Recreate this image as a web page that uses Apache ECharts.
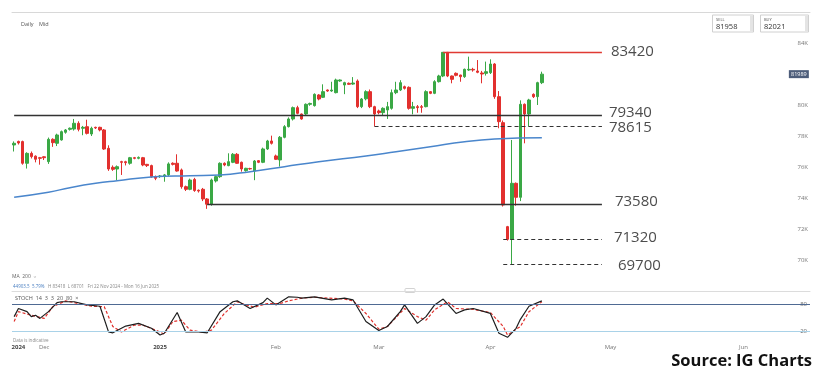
<!DOCTYPE html>
<html><head><meta charset="utf-8">
<script src="https://cdn.jsdelivr.net/npm/echarts/dist/echarts.min.js"></script>
<style>html,body{margin:0;padding:0;background:#fff}#c{width:825px;height:377px}</style>
</head><body><div id="c"></div>
<script>
// ---- DATA (daily candles, Sun-Fri sessions, 22 Nov 2024 - 15 Apr 2025) ----
const opens  = [77420,77650,77640,76240,76880,76700,76600,76660,76346,77786,77530,77745,78240,78430,78450,78820,78500,78600,78130,78560,
                78560,78390,77206,75980,75870,76346,76340,76240,76600,76560,76600,76170,76090,75380,75390,75380,75490,76240,76240,75810,
                74730,74560,75200,74500,74561,73938,73594,75098,75378,76238,76088,76303,76819,76303,75766,75900,75744,76410,76303,77163,
                77679,76712,76454,77915,78603,79098,79829,79420,79420,80044,79958,80646,80496,80968,80904,80797,81550,81290,81400,81350,
                81549,79893,80400,80861,79893,79613,79506,79678,79786,80796,80968,81183,81140,79786,79893,79893,79893,80861,80753,81506,
                81871,83398,81871,82043,81935,81828,82258,82301,82194,82065,82043,82086,82645,80538,78860,72153,71336,74948,74045,80044,
                79420,80688,80538,81441];
const closes = [77530,77550,76240,76880,76670,76500,76560,76600,77786,77570,78066,78280,78390,78500,78820,78430,78560,78170,78496,78520,
                78390,77160,75870,75850,76020,76300,76280,76600,76560,76620,76130,76090,75380,75270,75420,75490,76200,76170,75740,74730,
                74560,75160,74480,74450,73938,73600,75163,75378,76238,76130,76346,76819,76238,75873,75916,75880,76388,76303,77163,77679,
                77528,76496,77915,78603,79098,79829,79463,79098,80044,80100,80689,80388,80861,80904,80968,81613,81613,81441,81336,81420,
                79893,80388,80860,79893,79420,79506,79786,79893,80796,80968,81441,81076,79786,79893,79830,79850,80861,80753,81506,81871,
                83398,81871,81656,81915,81828,82301,82301,82258,82108,82000,82150,82645,80538,78926,73551,71336,74948,74045,80044,79420,
                80323,80538,81441,81990];
const lows   = [77000,77450,76150,75900,76550,76300,76150,76450,76200,77300,77350,77700,78150,78350,78350,78300,78050,78100,78000,78450,
                78300,77100,75750,75750,75160,75486,76100,76150,76500,76500,76050,76000,75300,75150,75300,75050,75400,76100,75700,74600,
                74450,74500,74400,74350,73800,73300,73500,75000,75300,76050,76050,76250,76200,75700,75700,75820,75150,76250,76250,77100,
                77450,76450,76024,77850,78550,79000,79400,79050,79350,79950,79900,80300,80450,80850,80850,80750,81500,80700,81300,81300,
                79800,79800,80300,79800,78615,79400,79350,79100,79700,80700,80900,81000,79700,79400,79500,79500,79850,80700,80700,81450,
                81800,81800,81400,81850,81500,81750,82200,82150,82050,81400,81900,82000,80400,78500,73450,71250,69700,73500,73800,77528,
                78603,80450,80001,81350];
const highs  = [77650,77700,77700,76950,77000,76750,76650,76700,77900,77850,78150,78350,78450,78550,79100,78950,78650,79050,78600,78600,
                78600,78450,77400,76100,76100,76400,76400,76650,76650,76680,76650,76200,76150,75450,75480,75550,76300,76300,76820,75900,
                74800,75250,75300,74550,74650,74000,75250,75450,76300,76300,76884,76900,76900,76350,75950,75950,76450,76450,77250,77750,
                78023,76800,78000,78700,79200,79900,79950,79450,80100,80150,80750,80700,81334,81000,81500,81700,81650,81500,81450,81800,
                81650,80450,80950,81000,79950,79700,79850,80200,81000,81500,81600,81250,81200,80200,80000,80000,80950,80900,81600,81950,
                83420,83420,81900,82100,81950,82350,83118,82400,82900,82200,82800,82946,82700,80900,79000,72200,77743,75000,80300,80100,
                80400,80750,81500,82150];
// 200-day moving average: [candle index, value]
const maIdx = [0,8,13,19,24,32,41,48,55,63,71,82,89,97,105,112,123];
const maVal = [74050,74370,74667,74951,75118,75357,75441,75486,75699,76021,76344,76712,76989,77311,77634,77808,77892];
// Stochastic %K (black) and %D (red dashed): [candle index, value]
const kIdx = [0,1,3,4,5,6,8,10,11,14,17,20,22,23,26,29,32,34,35,38,40,43,45,48,51,52,55,58,59,61,64,66,67,70,74,77,79,82,85,87,90,91,94,96,98,100,103,105,107,111,113,115,117,118,120,123];
const kVal = [52,70,63,52,55,48,63,83,85,85,78,75,18,16,31,37,26,11,15,61,18,18,16,63,85,87,70,83,93,78,96,95,93,96,89,93,89,41,21,30,63,78,37,52,78,91,59,67,70,59,15,6,26,46,75,87];
const dIdx = [0,1,4,7,9,12,15,18,21,23,25,28,30,33,35,37,39,41,44,46,49,52,54,56,59,62,64,67,70,77,79,82,85,87,91,94,96,98,101,103,107,111,114,115,118,120,123];
const dVal = [41,63,55,48,74,87,81,75,74,30,18,33,33,22,13,41,44,22,17,22,59,85,78,73,81,81,87,93,95,91,87,59,24,30,70,52,44,67,85,70,68,61,30,11,30,63,85];
// Key levels
const levelValues = [83420,79340,78615,73580,71320,69700];
const levelStart  = ['2025-03-19','2024-11-22','2025-02-28','2025-01-14','2025-04-04','2025-04-04'];
const levelEnd    = '2025-04-29';
const levelDashed = [false,false,true,false,true,true];
const levelColor  = ['#e03a33','#333333','#333333','#333333','#333333','#333333'];
// Axis labels
const monthDates  = ['2024-11-24','2024-12-01','2025-01-01','2025-02-02','2025-03-02','2025-04-01','2025-05-01','2025-06-01'];
const monthTexts  = ['2024','Dec','2025','Feb','Mar','Apr','May','Jun'];
const sellPrice = '81958', buyPrice = '82021', lastPrice = '81989';

// ---- categories: Sun-Fri trading days for data, calendar days for the future range ----
function fmt(d){return d.toISOString().slice(0,10);}
const cats = [];
let d = new Date(Date.UTC(2024,10,22));
while (cats.length < opens.length) { if (d.getUTCDay() !== 6) cats.push(fmt(d)); d = new Date(d.getTime()+86400000); }
const endT = Date.UTC(2025,5,16);
while (d.getTime() <= endT) { cats.push(fmt(d)); d = new Date(d.getTime()+86400000); }
const labelIdx = {};
monthDates.forEach((m,i)=>{ labelIdx[cats.indexOf(m)] = monthTexts[i]; });

const candles = opens.map((o,i)=>[o, closes[i], lows[i], highs[i]]);
const ma = maIdx.map((x,i)=>[x, maVal[i]]);
const kLine = kIdx.map((x,i)=>[x, kVal[i]]);
const dLine = dIdx.map((x,i)=>[x, dVal[i]]);

// label styling per level: gap after the line end, and vertical nudge (negative = up) via a spacer line
const labelDist  = [9,7,7,13,12,16];
const labelNudge = [0,-5,3,-5,-4,3];
const labelRich = {
  n:{fontSize:15, lineHeight:17, color:'#4d4d4d', fontFamily:'Open Sans'},
  g1:{fontSize:1, lineHeight:1}, g2:{fontSize:1, lineHeight:2}, g3:{fontSize:1, lineHeight:3},
  g4:{fontSize:1, lineHeight:4}, g5:{fontSize:1, lineHeight:5}
};
function labelText(v, nudge){
  if (!nudge) return '{n|'+v+'}';
  const g = '{g'+Math.abs(nudge)+'| }';
  return nudge < 0 ? '{n|'+v+'}\n'+g : g+'\n{n|'+v+'}';
}
const levelLines = levelValues.map((v,i)=>[
  {coord:[levelStart[i], v], lineStyle:{color:levelColor[i], width: levelDashed[i]?1.2:1.4, type: levelDashed[i]?[4,3]:'solid'},
   label:{show:true, position:'end', distance:labelDist[i], formatter:labelText(v, labelNudge[i]), rich:labelRich}},
  {coord:[levelEnd, v]}
]);

const chart = echarts.init(document.getElementById('c'), null, {renderer:'canvas'});
const txt = (x,y,t,size,color,extra)=>({type:'text', x, y, style:Object.assign({text:t, fontSize:size, fill:color, fontFamily:'Open Sans', verticalAlign:'middle'}, extra||{})});
chart.setOption({
  animation:false,
  backgroundColor:'#fff',
  grid:[
    {left:12, right:15, top:12, height:279, outerBoundsMode:'none'},
    {left:12, right:15, top:290.5, height:49.5, outerBoundsMode:'none'}
  ],
  xAxis:[
    {type:'category', gridIndex:0, data:cats, position:'top', axisLine:{show:true, lineStyle:{color:'#d8d8d8', width:1}}, axisTick:{show:false}, axisLabel:{show:false}, splitLine:{show:false}},
    {type:'category', gridIndex:0, data:cats, position:'bottom', axisLine:{show:true, lineStyle:{color:'#dcdcdc', width:1}}, axisTick:{show:false}, axisLabel:{show:false}, splitLine:{show:false}},
    {type:'category', gridIndex:1, data:cats, position:'bottom', axisLine:{show:false}, axisTick:{show:false}, splitLine:{show:false},
     axisLabel:{show:true, margin:4, fontSize:6, color:'#777', fontFamily:'Open Sans',
       interval:(i)=>labelIdx[i]!==undefined,
       formatter:(v,i)=>{const t=labelIdx[i]; if(t===undefined) return ''; return /^\d{4}$/.test(t)?'{y|'+t+'}':t;},
       rich:{y:{fontSize:6, color:'#444', fontWeight:'bold', fontFamily:'Open Sans'}}}}
  ],
  yAxis:[
    {type:'value', gridIndex:0, position:'right', min:68000, max:86000, interval:2000, splitLine:{show:false}, axisLine:{show:false}, axisTick:{show:false},
     axisLabel:{inside:true, margin:2, fontSize:6, color:'#777', fontFamily:'Open Sans', showMinLabel:false, showMaxLabel:false, formatter:(v)=> (v/1000)+'K'}},
    {type:'value', gridIndex:1, position:'right', min:0, max:110, interval:10, splitLine:{show:false}, axisLine:{show:false}, axisTick:{show:false},
     axisLabel:{inside:true, margin:2, fontSize:6, color:'#666', fontFamily:'Open Sans', backgroundColor:'#fff', padding:[0,1], formatter:(v)=> (v===20||v===80)?String(v):''}}
  ],
  series:[
    {type:'candlestick', name:'price', xAxisIndex:0, yAxisIndex:0, data:candles, barWidth:3,
     itemStyle:{color:'#3aa845', color0:'#e2302e', borderColor:'#3aa845', borderColor0:'#e2302e', borderWidth:1},
     markLine:{symbol:'none', silent:true, animation:false, data:levelLines},
     markPoint:{silent:true, animation:false, data:[{coord:[cats.length-1, closes[closes.length-1]], symbol:'rect', symbolSize:[20,8], symbolOffset:[-9,0],
       itemStyle:{color:'#4d5d7a'}, label:{show:true, position:'inside', formatter:lastPrice, color:'#fff', fontSize:5.5, fontFamily:'Open Sans'}}]}
    },
    {type:'line', name:'MA 200', xAxisIndex:0, yAxisIndex:0, data:ma, smooth:true, symbol:'none', lineStyle:{color:'#4a86cc', width:1.5}, z:3},
    {type:'line', name:'K', xAxisIndex:2, yAxisIndex:1, data:kLine, symbol:'none', lineStyle:{color:'#1e1e1e', width:1.2}, z:4,
     markLine:{symbol:'none', silent:true, animation:false, label:{show:false}, data:[
       {yAxis:80, lineStyle:{color:'#4f6a93', width:1.2, type:'solid'}},
       {yAxis:20, lineStyle:{color:'#a9d2e8', width:1.2, type:'solid'}}]}},
    {type:'line', name:'D', xAxisIndex:2, yAxisIndex:1, data:dLine, symbol:'none', lineStyle:{color:'#e0302c', width:1.2, type:[3,2]}, z:3}
  ],
  graphic:[
    txt(21,24,'Daily',5.5,'#555'),
    txt(39,24,'Mid',5.5,'#555'),
    {type:'rect', shape:{x:712.5,y:15,width:41,height:17}, style:{fill:'#fff', stroke:'#d0d0d0', lineWidth:1}},
    {type:'rect', shape:{x:750,y:15.5,width:3,height:16}, style:{fill:'#e4e4e4'}},
    txt(716,19.5,'SELL',4,'#555'),
    txt(716,26.5,sellPrice,7.5,'#333'),
    {type:'rect', shape:{x:760.5,y:15,width:48,height:17}, style:{fill:'#fff', stroke:'#d0d0d0', lineWidth:1}},
    {type:'rect', shape:{x:805,y:15.5,width:3,height:16}, style:{fill:'#e4e4e4'}},
    txt(764,19.5,'BUY',4,'#555'),
    txt(764,26.5,buyPrice,7.5,'#333'),
    txt(12,277,'MA  200  \u02C5',5,'#666'),
    txt(13,286.5,'44903.5  5.79%',4.5,'#4a7fc1'),
    txt(48,286.5,'H 83418  L 68701   Fri 22 Nov 2024 - Mon 16 Jun 2025',4.5,'#888'),
    {type:'rect', shape:{x:405,y:288.5,width:10,height:4, r:1}, style:{fill:'#fff', stroke:'#c8c8c8', lineWidth:0.8}},
    txt(15,298,'STOCH  14  3  3  20  80  \u00D7',5.5,'#555'),
    txt(13,341,'Data is indicative',4.5,'#888'),
    txt(812,361,'Source: IG Charts',16.5,'#111',{align:'right', fontWeight:'bold'})
  ]
});
</script></body></html>
